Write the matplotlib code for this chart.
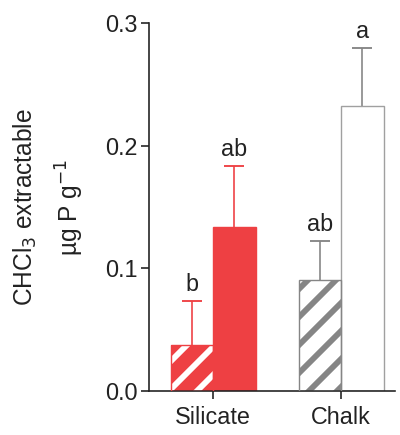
import matplotlib
matplotlib.use("Agg")
import matplotlib.pyplot as plt
import numpy as np

plt.rcParams['font.family'] = ['Liberation Sans', 'DejaVu Sans']
plt.rcParams['hatch.linewidth'] = 5.0

categories = ["Silicate", "Chalk"]
hatched_means = [0.0375, 0.0905]
hatched_errs = [0.0358, 0.0317]
open_means = [0.134, 0.2323]
open_errs = [0.0494, 0.0472]
hatched_letters = ["b", "ab"]
open_letters = ["ab", "a"]

red = "#EE4043"
gray = "#858585"
light_gray = "#A0A0A0"
ink = "#222222"

DPI = 84
fig = plt.figure(figsize=(400 / DPI, 435 / DPI), dpi=DPI)
ax = fig.add_axes([149 / 400, 1 - 391 / 435, (395 - 149) / 400, (391 - 23) / 435])

x = np.arange(len(categories))
w = 0.332
cap = 0.078


def upper_error(ax, xc, mean, err, color):
    top = mean + err
    ax.plot([xc, xc], [mean, top], color=color, lw=1.4, zorder=1,
            solid_capstyle="butt")
    ax.plot([xc - cap, xc + cap], [top, top], color=color, lw=1.6, zorder=1,
            solid_capstyle="butt")


# hatched bars: fill + hatch, then outline on top
hatch_face = [red, "white"]
hatch_col = ["white", gray]
hatch_edge = [red, gray]
for i in range(len(categories)):
    ax.bar(x[i] - w / 2, hatched_means[i], w, color=hatch_face[i],
           edgecolor=hatch_col[i], hatch="/", linewidth=0, zorder=2)
    ax.bar(x[i] - w / 2, hatched_means[i], w, fill=False,
           edgecolor=hatch_edge[i], linewidth=1.2, zorder=3)
    upper_error(ax, x[i] - w / 2, hatched_means[i], hatched_errs[i], hatch_edge[i])

open_face = [red, "white"]
open_edge = [red, light_gray]
err_col = [red, gray]
for i in range(len(categories)):
    ax.bar(x[i] + w / 2, open_means[i], w, color=open_face[i],
           edgecolor=open_edge[i], linewidth=1.2, zorder=2)
    upper_error(ax, x[i] + w / 2, open_means[i], open_errs[i], err_col[i])

fs = 20
for i in range(len(categories)):
    ax.text(x[i] - w / 2, hatched_means[i] + hatched_errs[i] + 0.004,
            hatched_letters[i], ha="center", va="bottom", fontsize=fs, color=ink)
    ax.text(x[i] + w / 2, open_means[i] + open_errs[i] + 0.004,
            open_letters[i], ha="center", va="bottom", fontsize=fs, color=ink)

ax.set_xlim(-0.5, 1.42)
ax.set_ylim(0, 0.3)
ax.set_yticks([0.0, 0.1, 0.2, 0.3])
ax.set_yticklabels(["0.0", "0.1", "0.2", "0.3"])
ax.set_xticks(x)
ax.set_xticklabels(categories)

for s in ["top", "right"]:
    ax.spines[s].set_visible(False)
for s in ["left", "bottom"]:
    ax.spines[s].set_linewidth(1.4)
    ax.spines[s].set_color(ink)
ax.tick_params(axis="both", length=7, width=1.4, color=ink,
               labelsize=fs, labelcolor=ink, pad=3)
ax.tick_params(axis="x", pad=6)

fig.text(25 / 400, 1 - 207 / 435, "CHCl$_3$ extractable", rotation=90,
         ha="center", va="center", fontsize=21, color=ink)
fig.text(70 / 400, 1 - 207 / 435, "µg P g$^{-1}$", rotation=90,
         ha="center", va="center", fontsize=21, color=ink)

fig.savefig("out.png", dpi=DPI)
